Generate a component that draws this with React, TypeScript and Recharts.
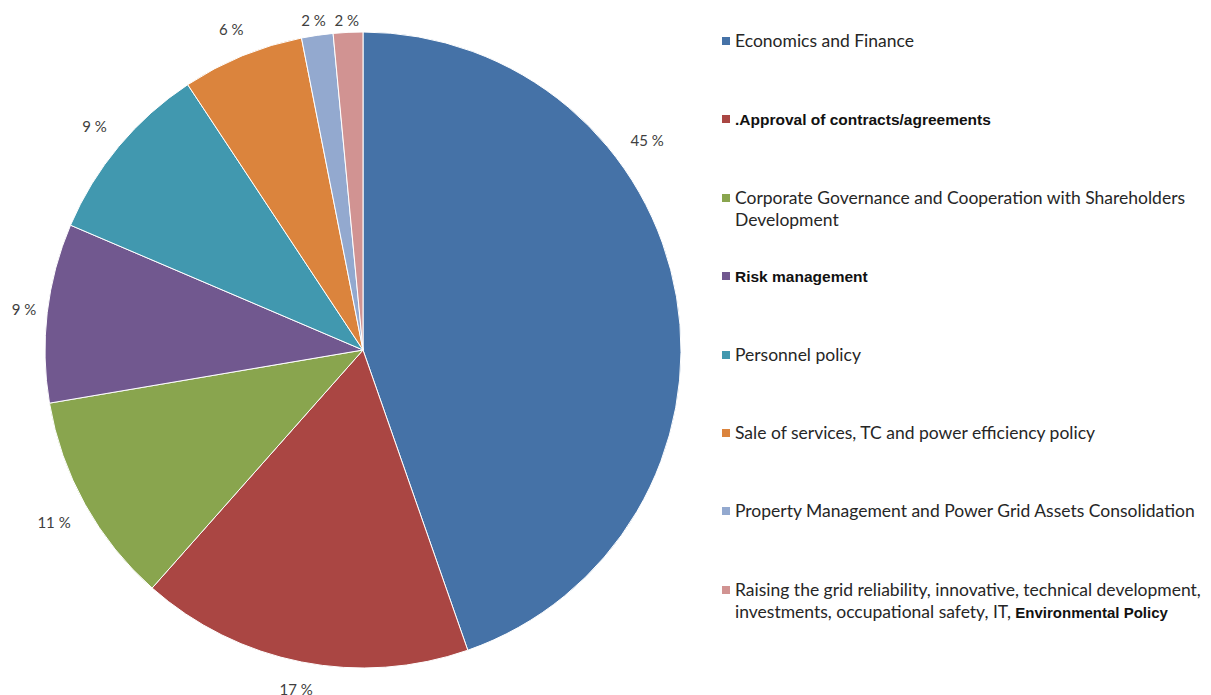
import { PieChart, Pie, Cell, Legend } from "recharts";

const categories = [
  "Economics and Finance",
  ".Approval of contracts/agreements",
  "Corporate Governance and Cooperation with Shareholders\nDevelopment",
  "Risk management",
  "Personnel policy",
  "Sale of services, TC and power efficiency policy",
  "Property Management and Power Grid Assets Consolidation",
  "Raising the grid reliability, innovative, technical development,\ninvestments, occupational safety, IT, Environmental Policy",
];
const shares = [44.7, 16.9, 10.8, 9.1, 9.3, 6.2, 1.6, 1.5];
const colors = ["#4572A7", "#AA4643", "#89A54E", "#71588F", "#4198AF", "#DB843D", "#93A9CF", "#D19392"];
const boldNames = new Set([".Approval of contracts/agreements", "Risk management"]);

const data = categories.map((name, i) => ({ name, value: shares[i] }));

const RAD = Math.PI / 180;
const LABEL_FONT = 15;
const boldStyle = { fontFamily: "'Liberation Sans', Arial, sans-serif", fontWeight: 700, fontSize: 15.5, color: "#111" };

function renderLabel(props: any) {
  const { cx, cy, outerRadius, startAngle, endAngle, midAngle, value, index } = props;
  // the big slice's label sits on the first third of it, like the original
  const angle = index === 0 ? startAngle + (endAngle - startAngle) / 3 : midAngle;
  const text = `${Math.round(value)} %`;
  const dx = Math.cos(-angle * RAD);
  const dy = Math.sin(-angle * RAD);
  const halfW = text.length * 4;
  const halfH = 7;
  const r = outerRadius + 18 + Math.abs(dx) * halfW + Math.abs(dy) * halfH;
  const x = Math.max(cx + r * dx, 16);
  const y = Math.max(cy + r * dy, 12);
  return (
    <text x={x} y={y} textAnchor="middle" dominantBaseline="central" fill="#404040"
      style={{ fontFamily: "Lato, sans-serif", fontSize: LABEL_FONT }}>
      {text}
    </text>
  );
}

function renderName(name: string) {
  if (boldNames.has(name)) return <span style={boldStyle}>{name}</span>;
  const tail = "Environmental Policy";
  if (name.endsWith(tail)) {
    return (
      <>
        {name.slice(0, -tail.length)}
        <span style={{ ...boldStyle, fontSize: 15 }}>{tail}</span>
      </>
    );
  }
  return name;
}

function LegendContent() {
  return (
    <div>
      {categories.map((name, i) => (
        <div key={i} style={{ height: 78.4, display: "flex", alignItems: "flex-start" }}>
          <span style={{ width: 8, height: 8, background: colors[i], marginTop: 7, marginRight: 5, flexShrink: 0 }} />
          <span style={{ whiteSpace: "pre", lineHeight: "22.5px", fontFamily: "Lato, sans-serif", fontSize: 17.5, color: "#262626" }}>
            {renderName(name)}
          </span>
        </div>
      ))}
    </div>
  );
}

export default function App() {
  return (
    <div style={{ width: 1203, height: 687, background: "#fff" }}>
      <PieChart width={1203} height={687} margin={{ top: 0, right: 0, bottom: 0, left: 0 }}>
        <Pie
          data={data}
          dataKey="value"
          nameKey="name"
          cx={355}
          cy={342}
          outerRadius={318}
          startAngle={90}
          endAngle={-270}
          stroke="#fff"
          strokeWidth={1}
          label={renderLabel}
          labelLine={false}
          isAnimationActive={false}
        >
          {data.map((_, i) => (
            <Cell key={i} fill={colors[i]} />
          ))}
        </Pie>
        <Legend
          layout="vertical"
          align="right"
          verticalAlign="top"
          content={<LegendContent />}
          wrapperStyle={{ left: 714, top: 22, width: 489, right: "auto", bottom: "auto" }}
        />
      </PieChart>
    </div>
  );
}
